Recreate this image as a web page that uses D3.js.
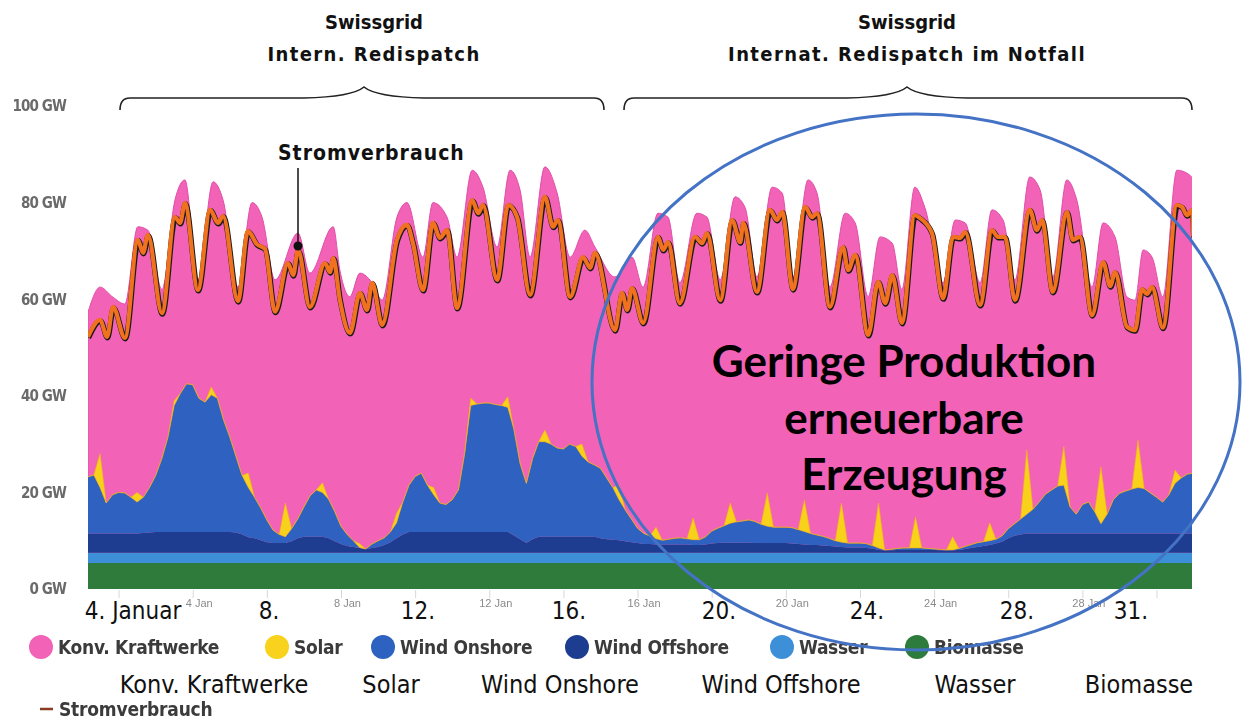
<!DOCTYPE html>
<html>
<head>
<meta charset="utf-8">
<script src="https://cdn.jsdelivr.net/npm/d3@7"></script>
<style>
  body { margin: 0; background: #fff; }
  svg { display: block; }
  .din { font-family: "DejaVu Sans Condensed", "DejaVu Sans", sans-serif; font-stretch: condensed; }
</style>
</head>
<body>
<svg id="chart" width="1243" height="719"></svg>
<script>
// Stromproduktion Deutschland, Januar — stacked generation with demand line on top.
// Days are given as fractional day-of-January (1.0 = 1 Jan 00:00).

// demand (Stromverbrauch), [day, GW]
const demand = [
  [1.175,52.2],[1.50,55.7],[1.69,52.2],[1.85,58.4],[2.17,52.0],[2.52,72.3],[2.66,69.6],[2.79,73.3],
  [3.17,57.1],[3.52,77.0],[3.66,75.8],[3.79,79.9],[4.14,61.9],[4.47,78.5],[4.68,75.8],[4.82,77.2],
  [5.22,59.6],[5.49,74.1],[5.73,71.4],[5.95,70.4],[6.22,57.4],[6.57,67.5],[6.71,65.0],[6.84,70.2],
  [7.16,58.4],[7.57,67.5],[7.70,65.6],[7.79,68.5],[7.97,59.8],[8.24,53.0],[8.51,61.3],[8.70,57.8],
  [8.84,63.4],[9.11,54.7],[9.51,72.3],[9.78,75.4],[9.94,71.6],[10.21,61.9],[10.48,75.8],[10.67,72.7],
  [10.86,74.3],[11.13,58.2],[11.54,80.5],[11.70,77.8],[11.83,79.5],[12.21,64.0],[12.51,79.5],[12.75,77.0],
  [13.10,60.9],[13.50,81.2],[13.72,75.0],[13.85,76.4],[14.18,60.5],[14.53,68.7],[14.72,66.5],[14.85,69.6],
  [15.39,53.6],[15.58,61.3],[15.72,57.8],[15.85,62.3],[16.15,55.1],[16.55,72.9],[16.69,70.2],[16.82,71.8],
  [17.14,59.2],[17.55,72.9],[17.74,71.6],[17.87,73.7],[18.23,59.8],[18.55,76.4],[18.77,71.8],[18.85,75.8],
  [19.22,61.5],[19.57,78.5],[19.76,76.4],[19.90,78.1],[20.19,62.1],[20.52,79.1],[20.71,77.0],[20.84,77.8],
  [21.19,58.4],[21.54,70.8],[21.68,66.0],[21.87,69.2],[22.22,52.6],[22.49,63.6],[22.68,59.2],[22.87,65.0],
  [23.13,55.1],[23.48,77.4],[23.62,76.8],[23.94,73.7],[24.24,60.2],[24.51,72.9],[24.70,72.7],[24.84,73.9],
  [25.24,58.8],[25.56,74.3],[25.72,72.9],[25.91,72.9],[26.18,59.8],[26.58,78.5],[26.77,74.3],[26.91,76.4],
  [27.20,61.5],[27.58,78.1],[27.74,72.3],[27.93,72.9],[28.26,56.7],[28.56,67.7],[28.75,62.7],[28.88,65.6],
  [29.20,54.3],[29.42,53.6],[29.61,62.1],[29.74,61.1],[29.88,62.5],[30.17,54.1],[30.55,79.5],[30.69,79.1],
  [30.82,77.4],[30.96,78.5],[30.99,73.0]
];

// total generation (top of the Konv. Kraftwerke layer), [day, GW]
const production = [
  [1.175,57.3],[1.50,62.5],[1.85,60.4],[2.17,59.0],[2.52,75.0],[2.79,74.3],[3.17,62.0],[3.52,80.5],
  [3.79,84.7],[4.14,64.0],[4.55,84.3],[4.82,80.5],[5.22,62.5],[5.60,80.0],[5.87,77.0],[6.22,64.0],
  [6.84,73.7],[7.16,65.4],[7.79,75.0],[7.97,66.0],[8.24,60.5],[8.51,65.4],[8.84,63.4],[9.11,59.8],
  [9.51,77.0],[9.78,80.0],[10.21,68.7],[10.48,80.0],[10.86,77.0],[11.13,68.7],[11.54,86.7],[11.83,83.2],
  [12.21,70.8],[12.56,86.7],[12.83,82.6],[13.10,68.7],[13.50,87.4],[13.83,82.0],[14.18,68.7],[14.58,74.3],
  [14.85,70.8],[15.39,64.6],[15.85,68.7],[16.15,62.5],[16.55,77.8],[16.82,77.0],[17.14,63.4],[17.60,77.8],
  [17.87,77.0],[18.23,64.0],[18.63,81.2],[18.90,79.0],[19.22,64.6],[19.63,83.2],[19.90,82.0],[20.19,64.6],
  [20.60,84.7],[20.84,82.0],[21.19,62.5],[21.60,77.8],[21.87,75.8],[22.22,60.5],[22.54,72.9],[22.87,71.6],
  [23.13,62.0],[23.48,83.2],[23.75,79.0],[24.24,63.4],[24.57,76.4],[24.84,75.8],[25.24,63.4],[25.56,78.5],
  [25.86,76.4],[26.18,64.0],[26.58,85.3],[26.86,82.6],[27.20,64.6],[27.58,84.7],[27.85,80.5],[28.26,62.5],
  [28.56,75.8],[28.88,72.9],[29.20,60.5],[29.42,59.8],[29.64,70.2],[29.88,68.7],[30.17,60.5],[30.55,86.7],
  [30.82,86.1],[30.99,85.0]
];

// 4-hourly values (00,04,08,12,16,20 h), one row per day, last value = 31 Jan 00:00
const windOnshore = [
  11.5,11.7,12.1, 9.5, 6.3, 8.0,   8.5, 8.4, 7.5, 6.5, 7.4, 9.3,  11.7,15.2,19.7,26.2,28.7,30.7,
  30.5,27.7,26.9,28.4,27.7,23.2,  19.7,15.8,12.2,10.3, 8.5, 6.7,   4.6, 2.7, 1.8, 1.3, 2.6, 4.0,
   6.2, 8.5, 9.7, 9.2, 8.1, 6.1,   3.7, 2.4, 1.3, 0.1, 0.0, 0.8,   1.3, 1.5, 2.1, 3.2, 6.7, 9.7,
  11.5,12.2, 9.7, 7.7, 6.0, 5.7,   6.7, 8.7,16.2,26.2,26.5,26.7,  26.7,26.4,26.2,25.8,21.9,15.7,
  12.4,16.7,19.7,19.7,19.2,18.4,  18.2,19.2,18.7,16.7,15.5,14.9,  14.5,12.7,10.8, 8.4, 6.5, 4.8,
   3.1, 2.2, 1.7, 1.2, 0.9, 1.1,   1.3, 1.4, 1.2, 1.1, 1.1, 1.6,   2.6, 3.1, 3.5, 4.0, 4.3, 4.5,
   4.7, 4.5, 3.9, 3.5, 3.3, 3.3,   3.3, 3.3, 3.0, 2.7, 2.4, 2.1,   1.9, 1.6, 1.2, 1.0, 0.9, 0.9,
   0.9, 0.9, 0.6, 0.4, 0.1, 0.2,   0.3, 0.4, 0.4, 0.4, 0.4, 0.3,   0.2, 0.2, 0.1, 0.1, 0.3, 0.5,
   0.7, 0.9, 0.9, 0.9, 0.9, 1.2,   2.0, 2.5, 3.2, 4.0, 5.0, 6.5,   8.1, 9.0, 9.8,10.0, 5.5, 4.0,
   6.0, 6.5, 4.5, 2.0, 4.0, 7.0,   8.3, 8.8, 9.2, 9.5, 9.3, 8.4,   7.5, 6.5, 8.0,10.4,11.5,12.3,
  12.5
];
const windOffshore = [
  4.0,4.0,4.0,4.0,4.0,4.0,  4.0,4.0,4.0,4.0,4.1,4.2,  4.3,4.3,4.3,4.3,4.3,4.3,
  4.3,4.3,4.3,4.3,4.3,4.3,  4.3,4.2,3.8,3.2,3.0,2.6,  2.2,2.0,2.0,2.0,2.4,3.0,
  3.3,3.3,3.3,3.3,3.0,2.4,  1.8,1.4,1.2,1.0,0.8,1.0,  1.2,1.6,2.2,3.0,3.8,4.3,
  4.3,4.3,4.3,4.3,4.3,4.3,  4.3,4.3,4.3,4.3,4.3,4.3,  4.3,4.3,4.3,4.3,3.6,2.8,
  2.0,2.8,3.3,3.3,3.3,3.3,  3.3,3.3,3.3,3.3,3.3,3.3,  3.0,2.8,2.7,2.6,2.4,2.2,
  2.0,1.8,1.8,1.7,1.7,1.7,  1.7,1.7,1.7,1.6,1.6,1.7,  1.9,2.0,2.1,2.1,2.1,2.1,
  2.1,2.0,2.0,2.0,2.0,2.0,  2.0,1.9,1.8,1.7,1.6,1.6,  1.5,1.4,1.3,1.2,1.1,1.1,
  1.1,1.0,0.9,0.6,0.5,0.5,  0.6,0.6,0.6,0.6,0.6,0.6,  0.6,0.5,0.5,0.5,0.6,0.8,
  1.0,1.2,1.4,1.6,1.9,2.3,  3.0,3.5,3.8,4.0,4.0,4.0,  4.0,4.0,4.0,4.0,4.0,4.0,
  4.0,4.0,4.0,4.0,4.0,4.0,  4.0,4.0,4.0,4.0,4.0,4.0,  4.0,4.0,4.0,4.0,4.0,4.0,
  4.0
];
// solar at midday, one per day (night and morning values are zero)
const solarNoon = [7.0,2.0,1.0,1.6,3.0,7.0,2.0,0.8,2.0,1.5,1.5,2.2,2.4,2.5,3.0,
                   2.4,4.5,4.2,6.9,6.5,8.1,9.3,6.4,2.7,3.7,13.3,8.0,11.8,9.8,2.7];
// daily values, nearly flat through the month
const biomasse = [5.4,5.4,5.4,5.4,5.4,5.4,5.4,5.4,5.4,5.4,5.4,5.4,5.4,5.4,5.4,
                  5.4,5.4,5.4,5.4,5.4,5.4,5.4,5.4,5.4,5.4,5.4,5.4,5.4,5.4,5.4];
const wasser = [2.1,2.1,2.1,2.1,2.1,2.1,2.1,2.1,2.1,2.1,2.1,2.1,2.1,2.1,2.1,
                2.1,2.1,2.1,2.1,2.1,2.1,2.1,2.1,2.1,2.1,2.1,2.1,2.1,2.1,2.1];

const yTicks = [0, 20, 40, 60, 80, 100];
const xTickDays = [2, 4, 6, 8, 10, 12, 14, 16, 18, 20, 22, 24, 26, 28, 30];

const seriesKeys = ["biomasse", "wasser", "offshore", "onshore", "solar"];
const seriesColors = { biomasse: "#2e7b3c", wasser: "#3d8fd8", offshore: "#1f3d90", onshore: "#2f62c0", solar: "#f8d21a" };
const konvColor = "#f262b6";

const dateLabels = [["4. Januar", 133], ["8.", 269], ["12.", 418], ["16.", 569], ["20.", 719], ["24.", 867], ["28.", 1017], ["31.", 1131]];
const legendOrig = [
  ["Konv. Kraftwerke", konvColor, 41], ["Solar", "#f8d21a", 277], ["Wind Onshore", "#2f62c0", 383],
  ["Wind Offshore", "#1f3d90", 577], ["Wasser", "#3d8fd8", 782], ["Biomasse", "#2e7b3c", 917]
];
const legendNew = [["Konv. Kraftwerke", 214], ["Solar", 391], ["Wind Onshore", 560], ["Wind Offshore", 781], ["Wasser", 975], ["Biomasse", 1139]];

// ---- layout ----
const plot = { left: 88, right: 1192, top: 106, bottom: 589 };
const JAN1 = Date.UTC(2017, 0, 1);
const dayToDate = (d) => new Date(JAN1 + (d - 1) * 864e5);

const x = d3.scaleUtc().domain([dayToDate(1), dayToDate(31)]).range([81.5, 1193.6]);
const y = d3.scaleLinear().domain([0, 100]).range([plot.bottom, plot.top]);

const svg = d3.select("#chart");
const defs = svg.append("defs");
defs.append("clipPath").attr("id", "plotclip")
  .append("rect").attr("x", plot.left).attr("y", 0).attr("width", plot.right - plot.left).attr("height", plot.bottom);
defs.append("filter").attr("id", "soft").append("feGaussianBlur").attr("stdDeviation", 0.5);

const g = svg.append("g").attr("clip-path", "url(#plotclip)");

// Konv. Kraftwerke: fill from 0 up to total generation; renewables are painted over its lower part
g.append("path").datum(production)
  .attr("fill", konvColor).attr("stroke", "#e04ea9").attr("stroke-width", 1)
  .attr("d", d3.area().curve(d3.curveMonotoneX)
    .x((d) => x(dayToDate(d[0]))).y0(y(0)).y1((d) => y(d[1])));

// renewable stack on the 4-hour grid
const rows = windOnshore.map((v, i) => {
  const day = Math.min(Math.floor(i / 6), 29);
  return {
    t: dayToDate(1 + i / 6),
    biomasse: biomasse[day],
    wasser: wasser[day],
    offshore: windOffshore[i],
    onshore: v,
    solar: (i % 6 === 3) ? solarNoon[day] : 0,
  };
});
const stacked = d3.stack().keys(seriesKeys)(rows);
const areaGen = d3.area().x((d) => x(d.data.t)).y0((d) => y(d[0])).y1((d) => y(d[1]));
g.selectAll("path.layer").data(stacked).join("path")
  .attr("class", "layer")
  .attr("fill", (s) => seriesColors[s.key])
  .attr("stroke", (s) => s.key === "solar" ? "#f2b21a" : "none")
  .attr("stroke-width", 0.6)
  .attr("d", areaGen);

// demand line: thin black edge underneath, orange on top
const lineGen = d3.line().curve(d3.curveMonotoneX).x((d) => x(dayToDate(d[0]))).y((d) => y(d[1]));
g.append("path").datum(demand).attr("fill", "none").attr("stroke", "#1a1a1a").attr("stroke-width", 5.4)
  .attr("stroke-linejoin", "round").attr("transform", "translate(0.5,0.9)").attr("d", lineGen);
g.append("path").datum(demand).attr("fill", "none").attr("stroke", "#f0711e").attr("stroke-width", 4.2)
  .attr("stroke-linejoin", "round").attr("d", lineGen);

// axes (faint, as in the source screenshot)
const yAxis = svg.append("g").attr("transform", "translate(66,0)")
  .call(d3.axisLeft(y).tickValues(yTicks).tickSize(0).tickPadding(0).tickFormat((v) => `${v} GW`));
yAxis.select(".domain").remove();
yAxis.selectAll("text").attr("class", "din").attr("fill", "#6a6a6a").attr("font-size", 15).attr("font-weight", "bold")
  .attr("letter-spacing", -0.9).attr("filter", "url(#soft)");

const xAxis = svg.append("g").attr("transform", `translate(0,${plot.bottom + 1})`)
  .call(d3.axisBottom(x).tickValues(xTickDays.map(dayToDate)).tickSize(8)
    .tickFormat((t) => { const d = t.getUTCDate(); return d % 4 === 0 ? `${d} Jan` : ""; }));
xAxis.select(".domain").remove();
xAxis.selectAll("line").attr("stroke", "#d8d8d8");
xAxis.selectAll("text").attr("fill", "#8a8a8a").attr("font-family", "Liberation Sans, Arial, sans-serif")
  .attr("font-size", 11).attr("dx", 6).attr("dy", 6).attr("filter", "url(#soft)");

// original legend (blurry row)
const lg = svg.append("g").attr("filter", "url(#soft)");
legendOrig.forEach(([label, color, cx]) => {
  lg.append("circle").attr("cx", cx).attr("cy", 647).attr("r", 12).attr("fill", color);
  lg.append("text").attr("class", "din").attr("x", cx + 17).attr("y", 654)
    .attr("font-size", 19).attr("font-weight", "bold").attr("letter-spacing", -0.3).attr("fill", "#3a3a3a").text(label);
});
lg.append("line").attr("x1", 40).attr("x2", 53).attr("y1", 709).attr("y2", 709).attr("stroke", "#8b3b22").attr("stroke-width", 2.5);
lg.append("text").attr("class", "din").attr("x", 59).attr("y", 716).attr("font-size", 19).attr("font-weight", "bold")
  .attr("letter-spacing", -0.2).attr("fill", "#3a3a3a").text("Stromverbrauch");

// overlay annotations
const ann = svg.append("g").attr("class", "din").attr("fill", "#111");
dateLabels.forEach(([t, cx]) => ann.append("text").attr("x", cx).attr("y", 619).attr("text-anchor", "middle").attr("font-size", 24).text(t));
legendNew.forEach(([t, cx]) => ann.append("text").attr("x", cx).attr("y", 693).attr("text-anchor", "middle").attr("font-size", 25).text(t));

const heads = [["Swissgrid", "Intern. Redispatch", 374, 120, 604, 364], ["Swissgrid", "Internat. Redispatch im Notfall", 907, 624, 1192, 907]];
heads.forEach(([a, b, cx, x1, x2, tip]) => {
  ann.append("text").attr("x", cx).attr("y", 29).attr("text-anchor", "middle").attr("font-size", 20).attr("font-weight", "bold").text(a);
  ann.append("text").attr("x", cx).attr("y", 61).attr("text-anchor", "middle").attr("font-size", 20).attr("font-weight", "bold")
    .attr("letter-spacing", 1.4).text(b);
  const p = d3.path();
  p.moveTo(x1, 110); p.quadraticCurveTo(x1, 98, x1 + 10, 98);
  p.lineTo(tip - 60, 98); p.quadraticCurveTo(tip - 12, 97, tip, 87);
  p.quadraticCurveTo(tip + 12, 97, tip + 60, 98);
  p.lineTo(x2 - 10, 98); p.quadraticCurveTo(x2, 98, x2, 110);
  ann.append("path").attr("d", p.toString()).attr("fill", "none").attr("stroke", "#222").attr("stroke-width", 1.6);
});

ann.append("text").attr("x", 278).attr("y", 160).attr("font-size", 21).attr("font-weight", "bold")
  .attr("letter-spacing", 1).text("Stromverbrauch");
ann.append("line").attr("x1", 298).attr("x2", 298).attr("y1", 168).attr("y2", 246).attr("stroke", "#111").attr("stroke-width", 1.5);
ann.append("circle").attr("cx", 298).attr("cy", 246).attr("r", 4.5).attr("fill", "#111");

// highlight ellipse + statement
svg.append("ellipse").attr("cx", 916).attr("cy", 382).attr("rx", 324).attr("ry", 268)
  .attr("fill", "none").attr("stroke", "#4472c4").attr("stroke-width", 3);
const msg = svg.append("g").attr("font-family", "Lato, 'Open Sans', sans-serif").attr("font-weight", "bold")
  .attr("font-size", 44).attr("fill", "#000").attr("text-anchor", "middle");
[["Geringe Produktion", 377], ["erneuerbare", 434], ["Erzeugung", 490]].forEach(([t, by]) =>
  msg.append("text").attr("x", 904).attr("y", by).text(t));
</script>
</body>
</html>
